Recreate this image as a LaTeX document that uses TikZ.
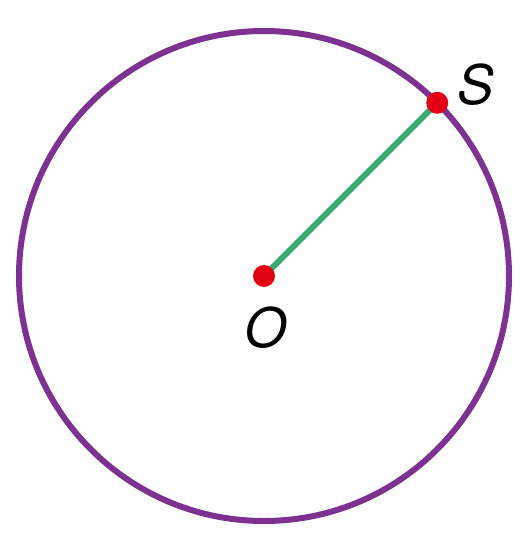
\documentclass[tikz,border=0pt]{standalone}
\usepackage{fontspec}
\setmainfont{TeX Gyre Heros}
\usepackage{xcolor}
\usetikzlibrary{calc}
\definecolor{rimpurple}{RGB}{125,50,145}
\definecolor{radgreen}{RGB}{55,170,110}
\definecolor{dotred}{RGB}{228,0,20}

\begin{document}
\begin{tikzpicture}[
  x=0.02cm, y=-0.02cm,
  line cap=round,
  rim/.style={draw=rimpurple, line width=0.12cm},
  radius line/.style={draw=radgreen, line width=0.12cm},
  dot/.style={circle, fill=dotred, inner sep=0pt, minimum size=0.44cm},
  lbl/.style={font=\fontsize{31}{31}\selectfont\itshape}
]
\useasboundingbox (0,0) rectangle (526,548);

%========== circle with centre O ==========
\def\R{245}
\coordinate (O) at (264,276);
\draw[rim] (O) circle[radius=\R];

%========== radius to S (y axis points down) ==========
\coordinate (S) at ($(O)+(-45:\R)$);
\draw[radius line] (O) -- (S);
\node[dot] (dotO) at (O) {};
\node[dot] (dotS) at (S) {};
\node[lbl] (labO) at (266,328) {O};
\node[lbl] (labS) at (476,85) {S};
\end{tikzpicture}
\end{document}
